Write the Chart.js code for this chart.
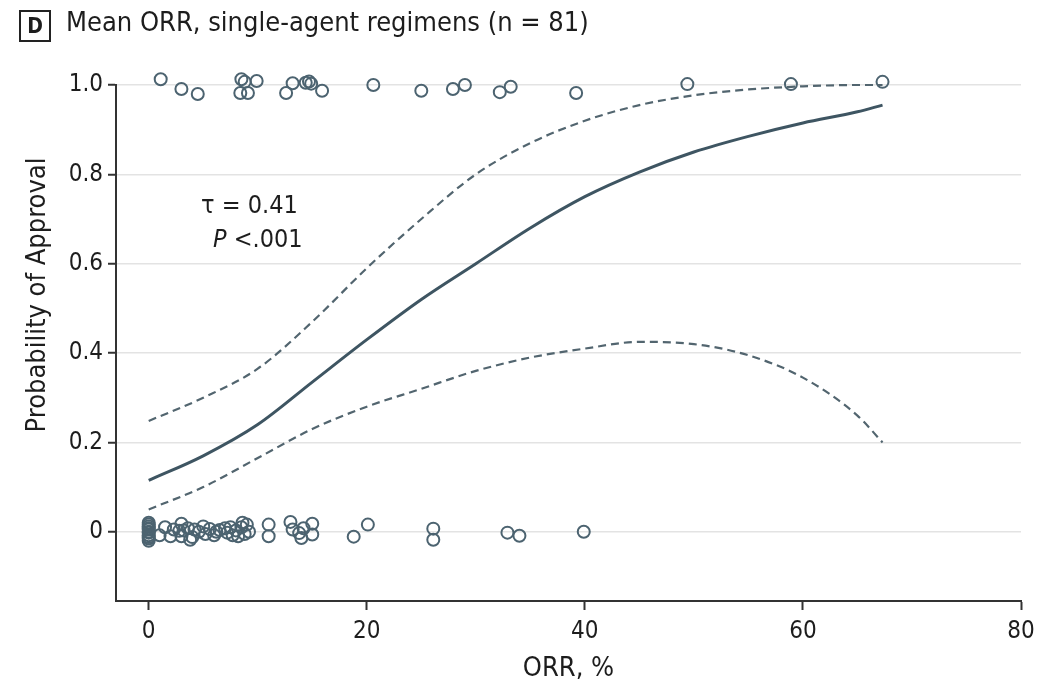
<!DOCTYPE html>
<html>
<head>
<meta charset="utf-8">
<script src="https://cdn.jsdelivr.net/npm/chart.js@4/dist/chart.umd.min.js"></script>
<style>
  html, body { margin: 0; padding: 0; background: #fff; }
  #wrap { position: relative; width: 1052px; height: 689px; }
  #c { position: absolute; left: 0; top: 0; }
  .fnt { font-family: 'Liberation Sans Narrow', 'DejaVu Sans Condensed', 'Roboto', sans-serif; }
  #panel { position: absolute; left: 19px; top: 10px; width: 28px; height: 28px; border: 2px solid #222;
           font-size: 21px; font-weight: bold; color: #1d1d1d; text-align: center; line-height: 28px; }
  #title { position: absolute; left: 66px; top: 6px; font-size: 27px; color: #1d1d1d; white-space: nowrap; }
</style>
</head>
<body>
<div id="wrap">
  <canvas id="c" width="1052" height="689"></canvas>
  <div id="panel" class="fnt">D</div>
  <div id="title" class="fnt">Mean ORR, single-agent regimens (n = 81)</div>
</div>
<script>
// ---- data ----
const approvedX = [1.1, 3.0, 4.5, 8.5, 8.8, 9.9, 8.4, 9.1, 12.6, 13.2, 14.4, 14.7, 14.9, 15.9, 20.6, 25.0, 27.9, 29.0, 32.2, 33.2, 39.2, 49.4, 58.9, 67.3];
const approvedY = [1.013, 0.991, 0.980, 1.013, 1.007, 1.009, 0.982, 0.982, 0.982, 1.004, 1.005, 1.008, 1.003, 0.987, 1.0, 0.987, 0.991, 1.0, 0.984, 0.996, 0.982, 1.002, 1.002, 1.007];

const notApprovedX = [0, 0, 0, 0, 0, 0, 0, 0, 0, 0, 0,
  1.0, 1.5, 2.0, 2.3, 2.8, 3.0, 3.0, 3.2, 3.6, 3.8, 4.0, 4.2, 4.6, 5.0, 5.2, 5.6, 6.0, 6.2, 6.5, 7.0, 7.2, 7.5, 7.7, 8.0, 8.2, 8.5, 8.6, 8.8, 9.0, 9.2,
  11.0, 11.0, 13.0, 13.2, 13.8, 14.0, 14.2, 15.0, 15.0, 18.8, 20.1, 26.1, 26.1, 32.9, 34.0, 39.9];
const notApprovedY = [0.02, 0.012, 0.005, -0.002, -0.008, -0.015, -0.02, 0.0, 0.016, -0.012, 0.008,
  -0.008, 0.01, -0.01, 0.005, 0.002, 0.018, -0.01, 0.003, 0.008, -0.018, -0.012, 0.005, 0.0, 0.012, -0.005, 0.006, -0.008, 0.0, 0.004, 0.008, -0.002, 0.01, -0.008, 0.003, -0.01, 0.01, 0.02, -0.005, 0.016, 0.0,
  0.016, -0.01, 0.022, 0.005, -0.003, -0.014, 0.008, 0.018, -0.006, -0.011, 0.016, 0.007, -0.018, -0.002, -0.009, 0.0];

const curveX = [0, 5, 10, 15, 20, 25, 30, 35, 40, 45, 50, 55, 60, 65, 67.3];
const fitY   = [0.115, 0.17, 0.24, 0.335, 0.43, 0.52, 0.60, 0.68, 0.75, 0.805, 0.85, 0.885, 0.915, 0.94, 0.955];
const upperY = [0.248, 0.30, 0.365, 0.47, 0.59, 0.70, 0.80, 0.87, 0.92, 0.955, 0.977, 0.99, 0.997, 1.0, 1.0];
const lowerY = [0.05, 0.10, 0.165, 0.23, 0.28, 0.32, 0.36, 0.39, 0.41, 0.425, 0.42, 0.395, 0.345, 0.26, 0.2];

const xTicks = [0, 20, 40, 60, 80];
const yTicks = [0, 0.2, 0.4, 0.6, 0.8, 1.0];
const xTitle = 'ORR, %';
const yTitle = 'Probability of Approval';

// ---- chart ----
const FONT = "'Liberation Sans Narrow', 'DejaVu Sans Condensed', Roboto, sans-serif";
const TXT = '#1d1d1d';
const pts = (xs, ys) => xs.map((x, i) => ({ x: x, y: ys[i] }));

const annot = {
  id: 'annot',
  afterDatasetsDraw(chart) {
    const ctx = chart.ctx;
    const xs = chart.scales.x, ys = chart.scales.y;
    ctx.save();
    ctx.fillStyle = TXT;
    ctx.textBaseline = 'middle';
    ctx.font = '25px ' + FONT;
    const x0 = xs.getPixelForValue(4.8);
    ctx.fillText('\u03c4 = 0.41', x0, ys.getPixelForValue(0.727));
    ctx.font = 'italic 25px ' + FONT;
    const px = xs.getPixelForValue(5.9);
    ctx.fillText('P', px, ys.getPixelForValue(0.653));
    const w = ctx.measureText('P ').width;
    ctx.font = '25px ' + FONT;
    ctx.fillText('<.001', px + w, ys.getPixelForValue(0.653));
    // y axis title
    ctx.translate(38, 295);
    ctx.rotate(-Math.PI / 2);
    ctx.textAlign = 'center';
    ctx.font = '27px ' + FONT;
    ctx.fillText(yTitle, 0, 0);
    ctx.restore();
  }
};

new Chart(document.getElementById('c'), {
  type: 'scatter',
  data: {
    datasets: [
      { type: 'line', data: pts(curveX, upperY), borderColor: '#52656f', borderWidth: 2.2, borderDash: [8, 5],
        pointRadius: 0, cubicInterpolationMode: 'monotone', fill: false, clip: false },
      { type: 'line', data: pts(curveX, lowerY), borderColor: '#52656f', borderWidth: 2.2, borderDash: [8, 5],
        pointRadius: 0, cubicInterpolationMode: 'monotone', fill: false, clip: false },
      { type: 'line', data: pts(curveX, fitY), borderColor: '#3e5562', borderWidth: 3,
        pointRadius: 0, cubicInterpolationMode: 'monotone', fill: false, clip: false },
      { data: pts(approvedX, approvedY), pointRadius: 6, borderWidth: 2, borderColor: '#4c6370',
        backgroundColor: 'rgba(0,0,0,0)', clip: false },
      { data: pts(notApprovedX, notApprovedY), pointRadius: 6, borderWidth: 2, borderColor: '#4c6370',
        backgroundColor: 'rgba(0,0,0,0)', clip: false }
    ]
  },
  options: {
    responsive: false,
    animation: false,
    events: [],
    layout: { padding: { top: 85, right: 31, left: 0, bottom: 0 } },
    plugins: { legend: { display: false }, tooltip: { enabled: false }, title: { display: false } },
    scales: {
      x: {
        type: 'linear', min: -3, max: 80,
        afterFit(s) { s.height = 88; },
        afterBuildTicks(s) { s.ticks = xTicks.map(v => ({ value: v })); },
        grid: { drawOnChartArea: false, drawTicks: true, tickLength: 9, tickColor: '#333', tickWidth: 2 },
        border: { display: true, color: '#333', width: 2 },
        ticks: { color: TXT, font: { family: FONT, size: 24 }, padding: 7, callback: v => String(v) },
        title: { display: true, text: xTitle, color: TXT, font: { family: FONT, size: 27 }, padding: { top: 4 } }
      },
      y: {
        type: 'linear', min: -0.155, max: 1.0,
        afterFit(s) { s.width = 116; },
        afterBuildTicks(s) { s.ticks = yTicks.map(v => ({ value: v })); },
        grid: { color: '#e3e3e3', lineWidth: 1.5, drawTicks: true, tickLength: 8, tickColor: '#333', tickWidth: 2 },
        border: { display: true, color: '#333', width: 2 },
        ticks: { color: TXT, font: { family: FONT, size: 24 }, padding: 5,
                 callback: v => (v === 0 ? '0' : Number(v).toFixed(1)) },
        title: { display: false }
      }
    }
  },
  plugins: [annot]
});
</script>
</body>
</html>
